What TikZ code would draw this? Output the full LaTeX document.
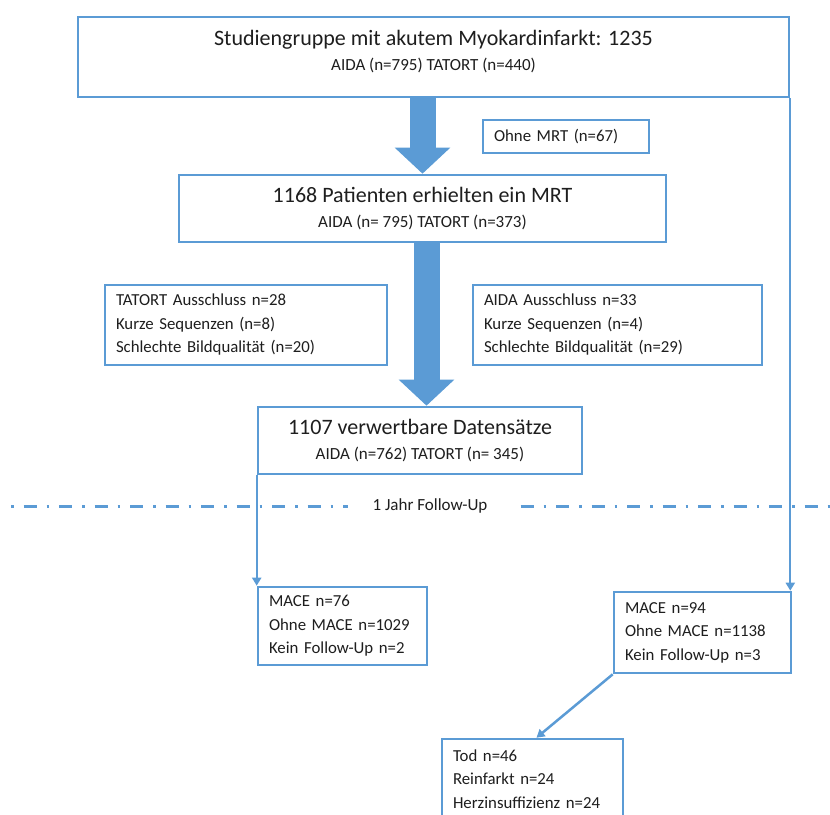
\documentclass[tikz,border=0pt]{standalone}
\usepackage{fontspec}
\setmainfont{Carlito}
\usetikzlibrary{arrows.meta,positioning}
\definecolor{boxblue}{RGB}{91,155,213}
\definecolor{inkgray}{RGB}{30,30,30}
\newcommand{\boxhead}[1]{{\fontsize{22}{24}\selectfont #1}}

\begin{document}
\begin{tikzpicture}[x=1pt, y=-1pt, text=inkgray]
  \tikzstyle{mainbox} = [draw=boxblue, line width=2.6pt, fill=white, inner sep=0pt, align=center, font=\fontsize{17}{25}\selectfont]
  \tikzstyle{listbox} = [draw=boxblue, line width=2.6pt, fill=white, inner xsep=11pt, inner ysep=0pt, align=left, font=\fontsize{16.8}{23.5}\selectfont]
  \tikzstyle{thinbox} = [listbox, line width=1.1pt]
  \tikzstyle{bigarrow} = [draw=boxblue, line width=26pt, -{Triangle[width=54pt 0 0, length=26pt 0 0]}]
  \tikzstyle{link} = [draw=boxblue, line width=2pt, -{Triangle[width=9pt 0 0, length=8pt 0 0]}]
  \tikzstyle{followup} = [draw=boxblue, line width=3pt, dash pattern=on 2.5pt off 10pt on 13pt off 10pt]
  \useasboundingbox (0,0) rectangle (830,814);

  % boxes
  \node[mainbox, minimum width=711pt, minimum height=80pt] (study) at (433.5,57) {};
  \node[align=center, font=\fontsize{17}{25}\selectfont] (studytxt) at (433.5,52)
    {\boxhead{Studiengruppe mit akutem Myokardinfarkt: 1235}\\AIDA (n=795) TATORT (n=440)};
  \node[thinbox, text width=144pt, minimum height=33pt] (nomrt) at (566,136.5) {Ohne MRT (n=67)};
  \node[mainbox, minimum width=487pt, minimum height=67pt] (mrt) at (422.5,208.5)
    {\boxhead{1168 Patienten erhielten ein MRT}\\AIDA (n= 795) TATORT (n=373)};
  \node[thinbox, text width=260pt, minimum height=80pt] (tatort) at (246,325)
    {TATORT Ausschluss n=28\\Kurze Sequenzen (n=8)\\Schlechte Bildqualität (n=20)};
  \node[thinbox, text width=267pt, minimum height=80pt] (aida) at (617.5,325)
    {AIDA Ausschluss n=33\\Kurze Sequenzen (n=4)\\Schlechte Bildqualität (n=29)};
  \node[mainbox, minimum width=324pt, minimum height=67pt] (valid) at (420,440.5)
    {\boxhead{1107 verwertbare Datensätze}\\AIDA (n=762) TATORT (n= 345)};

  % follow-up line
  \coordinate (fuleft) at (11,506);
  \coordinate (furight) at (830,506);
  \draw[followup] (fuleft) -- (furight);
  \node[fill=white, minimum width=164pt, font=\fontsize{17}{20}\selectfont] (fu) at (430,506) {1 Jahr Follow-Up};

  \node[listbox, text width=147pt, minimum height=78pt] (mace1) at (342.5,626)
    {MACE n=76\\Ohne MACE n=1029\\Kein Follow-Up n=2};
  \node[listbox, text width=155pt, minimum height=81pt] (mace2) at (702.5,632.5)
    {MACE n=94\\Ohne MACE n=1138\\Kein Follow-Up n=3};
  \node[listbox, text width=159pt, minimum height=80pt] (events) at (532.5,779)
    {Tod n=46\\Reinfarkt n=24\\Herzinsuffizienz n=24};

  % arrows
  \draw[bigarrow] (study.south -| mrt.north) -- (mrt.north);
  \draw[bigarrow] ([xshift=4pt]mrt.south) -- ([xshift=4pt]mrt.south |- valid.north);
  \draw[link] (valid.south west) -- (valid.south west |- mace1.north);
  \draw[link] (study.south east) -- (study.south east |- mace2.north);
  \draw[link, line width=2.5pt] (mace2.south west) -- ([xshift=4pt]events.north);
\end{tikzpicture}
\end{document}
